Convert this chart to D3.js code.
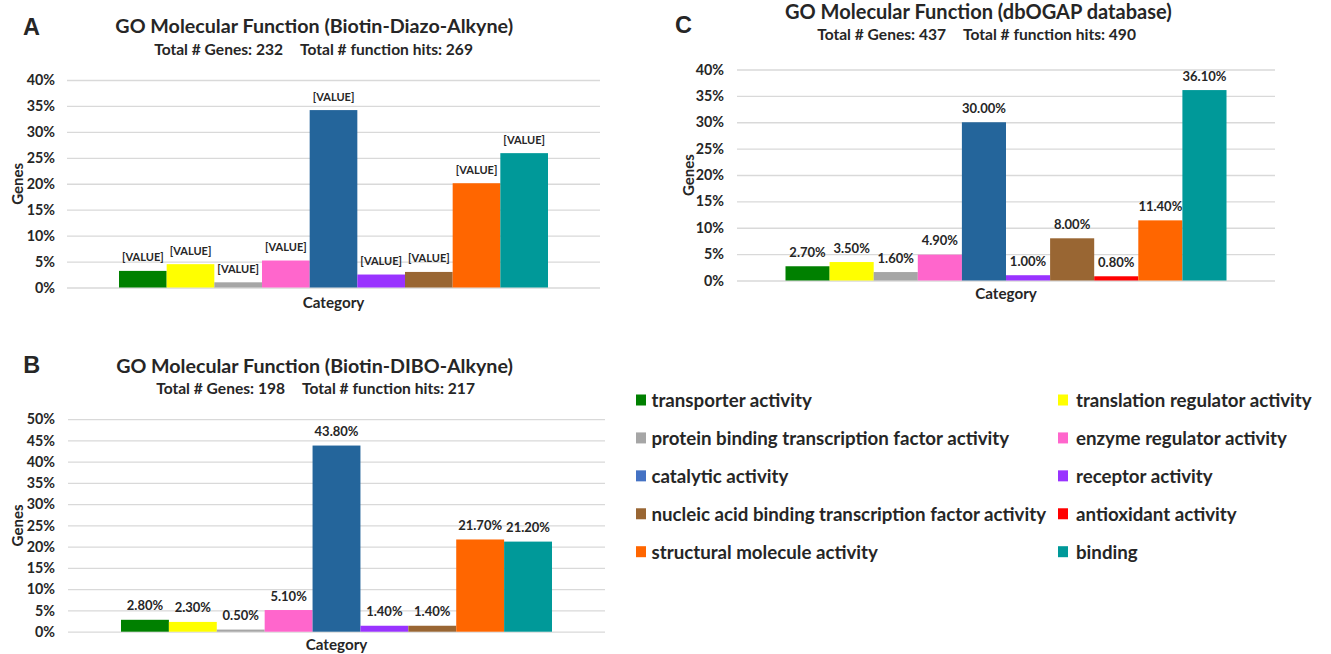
<!DOCTYPE html>
<html><head><meta charset="utf-8">
<script src="https://cdn.jsdelivr.net/npm/d3@7"></script>
<style>
body{margin:0;background:#fff}
svg{display:block}
text{font-family:Lato,'Open Sans',sans-serif;font-weight:700;fill:#262626}
</style>
</head><body><svg id="c" width="1331" height="654"></svg>
<script>
const categories = ["transporter activity","translation regulator activity","protein binding transcription factor activity","enzyme regulator activity","catalytic activity","receptor activity","nucleic acid binding transcription factor activity","antioxidant activity","structural molecule activity","binding"];
const barColors = ["#008000","#FFFF00","#A6A6A6","#FF66CC","#24659B","#9933FF","#996633","#FF0000","#FF6600","#009999"];
const legendColors = ["#008000","#FFFF00","#A6A6A6","#FF66CC","#4472C4","#9933FF","#996633","#FF0000","#FF6600","#009999"];

const seriesA = ["transporter activity","translation regulator activity","protein binding transcription factor activity","enzyme regulator activity","catalytic activity","receptor activity","nucleic acid binding transcription factor activity","structural molecule activity","binding"];
const valuesA = [3.2,4.5,1.0,5.2,34.2,2.5,3.0,20.1,25.9];
const labelsA = ["[VALUE]","[VALUE]","[VALUE]","[VALUE]","[VALUE]","[VALUE]","[VALUE]","[VALUE]","[VALUE]"];
const ticksA = [0,5,10,15,20,25,30,35,40];

const seriesB = ["transporter activity","translation regulator activity","protein binding transcription factor activity","enzyme regulator activity","catalytic activity","receptor activity","nucleic acid binding transcription factor activity","structural molecule activity","binding"];
const valuesB = [2.8,2.3,0.5,5.1,43.8,1.4,1.4,21.7,21.2];
const labelsB = ["2.80%","2.30%","0.50%","5.10%","43.80%","1.40%","1.40%","21.70%","21.20%"];
const ticksB = [0,5,10,15,20,25,30,35,40,45,50];

const seriesC = categories;
const valuesC = [2.7,3.5,1.6,4.9,30.0,1.0,8.0,0.8,11.4,36.1];
const labelsC = ["2.70%","3.50%","1.60%","4.90%","30.00%","1.00%","8.00%","0.80%","11.40%","36.10%"];
const ticksC = [0,5,10,15,20,25,30,35,40];

const panelLetters = ["A","B","C"];
const titles = ["GO Molecular Function (Biotin-Diazo-Alkyne)","GO Molecular Function (Biotin-DIBO-Alkyne)","GO Molecular Function (dbOGAP database)"];
const subtitlesLeft = ["Total # Genes: 232","Total # Genes: 198","Total # Genes: 437"];
const subtitlesRight = ["Total # function hits: 269","Total # function hits: 217","Total # function hits: 490"];
const xTitle = "Category", yTitle = "Genes";

const svg = d3.select("#c");
const colorOf = d3.scaleOrdinal().domain(categories).range(barColors);
const legendColorOf = d3.scaleOrdinal().domain(categories).range(legendColors);

function fitSize(sel, target) {
  const w = sel.node().getComputedTextLength();
  const fs = parseFloat(sel.style("font-size"));
  const nfs = fs * target / w;
  sel.style("font-size", nfs + "px");
  return nfs;
}

const layouts = [
  {plotL:67, plotR:600, top:80, bottom:287.5, inset:52, tickX:55, letterX:23, letterY:35, titleX:314.2, titleW:398, titleY:33.3, subY:55, subGap:291.5, genesX:17, catY:301.7, valW:41.7},
  {plotL:68, plotR:605, top:419.2, bottom:631.7, inset:53, tickX:55, letterX:23.3, letterY:373.3, titleX:314.5, titleW:397, titleY:373, subY:394, subGap:293.5, genesX:17, catY:644.3, valW:36.4},
  {plotL:737, plotR:1275, top:69.5, bottom:280.5, inset:48.5, tickX:724, letterX:675, letterY:33.3, titleX:978.4, titleW:387, titleY:19.2, subY:39.5, subGap:954.5, genesX:688, catY:293.3, valW:36.4}
];
const panels = [
  {series:seriesA, values:valuesA, labels:labelsA, ticks:ticksA},
  {series:seriesB, values:valuesB, labels:labelsB, ticks:ticksB},
  {series:seriesC, values:valuesC, labels:labelsC, ticks:ticksC}
];

panels.forEach((p, i) => {
  const L = layouts[i];
  const g = svg.append("g");
  const y = d3.scaleLinear().domain([0, d3.max(p.ticks)]).range([L.bottom, L.top]);
  const x = d3.scaleBand().domain(p.series).range([L.plotL + L.inset, L.plotR - L.inset]).padding(0);

  const axis = d3.axisLeft(y).tickValues(p.ticks).tickFormat(d => d + "%")
    .tickSize(-(L.plotR - L.plotL)).tickPadding(L.plotL - L.tickX);
  const ag = g.append("g").attr("transform", `translate(${L.plotL},0)`).call(axis);
  ag.select(".domain").remove();
  ag.selectAll(".tick line").attr("stroke", "#D9D9D9").attr("stroke-width", 1.3);
  ag.selectAll(".tick text").style("font-family", "Lato,'Open Sans',sans-serif").style("font-weight", 700)
    .style("font-size", "14.3px").attr("fill", "#404040");

  g.selectAll("rect.bar").data(p.series).join("rect").attr("class", "bar")
    .attr("x", d => x(d)).attr("width", x.bandwidth())
    .attr("y", (d, j) => y(p.values[j])).attr("height", (d, j) => y(0) - y(p.values[j]))
    .attr("fill", d => colorOf(d));

  const vals = g.selectAll("text.val").data(p.series).join("text").attr("class", "val")
    .attr("x", d => x(d) + x.bandwidth() / 2).attr("y", (d, j) => y(p.values[j]) - 9.5)
    .attr("text-anchor", "middle").style("font-size", "12.8px").attr("fill", "#404040")
    .text((d, j) => p.labels[j]);
  const vfs = fitSize(d3.select(vals.nodes()[0]), L.valW);
  vals.style("font-size", Math.min(vfs, 13.5) + "px");

  g.append("text").attr("x", (L.plotL + L.plotR) / 2).attr("y", L.catY)
    .attr("text-anchor", "middle").attr("dominant-baseline", "central")
    .style("font-size", "15.2px").attr("fill", "#404040").text(xTitle);

  g.append("text").attr("transform", `translate(${L.genesX},${(L.top + L.bottom) / 2}) rotate(-90)`)
    .attr("text-anchor", "middle").attr("dominant-baseline", "central")
    .style("font-size", "15px").attr("fill", "#404040").text(yTitle);

  g.append("text").attr("x", L.letterX).attr("y", L.letterY)
    .style("font-family", "'Liberation Sans',Arial,sans-serif").style("font-size", "23.5px").attr("fill", "#000")
    .text(panelLetters[i]);

  const t = g.append("text").attr("x", L.titleX).attr("y", L.titleY).attr("text-anchor", "middle")
    .style("font-size", "19.5px").attr("fill", "#262626").text(titles[i]);
  fitSize(t, L.titleW);

  const sr = g.append("text").attr("x", L.subGap + 8.5).attr("y", L.subY).attr("text-anchor", "start")
    .style("font-size", "14.3px").attr("fill", "#262626").text(subtitlesRight[i]);
  const sfs = fitSize(sr, 173);
  g.append("text").attr("x", L.subGap - 8.5).attr("y", L.subY).attr("text-anchor", "end")
    .style("font-size", sfs + "px").attr("fill", "#262626").text(subtitlesLeft[i]);
});

// legend
const lg = svg.append("g");
const legRow = d3.scalePoint().domain(d3.range(5)).range([400, 551.7]);
const colSw = [636, 1058], colTx = [651.5, 1076];
categories.forEach((c, i) => {
  const col = i % 2, row = Math.floor(i / 2);
  const cy = legRow(row);
  lg.append("rect").attr("x", colSw[col]).attr("y", cy - 5.5).attr("width", 10).attr("height", 11)
    .attr("fill", legendColorOf(c));
  lg.append("text").attr("x", colTx[col]).attr("y", cy).attr("dominant-baseline", "central")
    .style("font-size", "18.7px").attr("fill", "#262626").text(c);
});
</script>
</body></html>
